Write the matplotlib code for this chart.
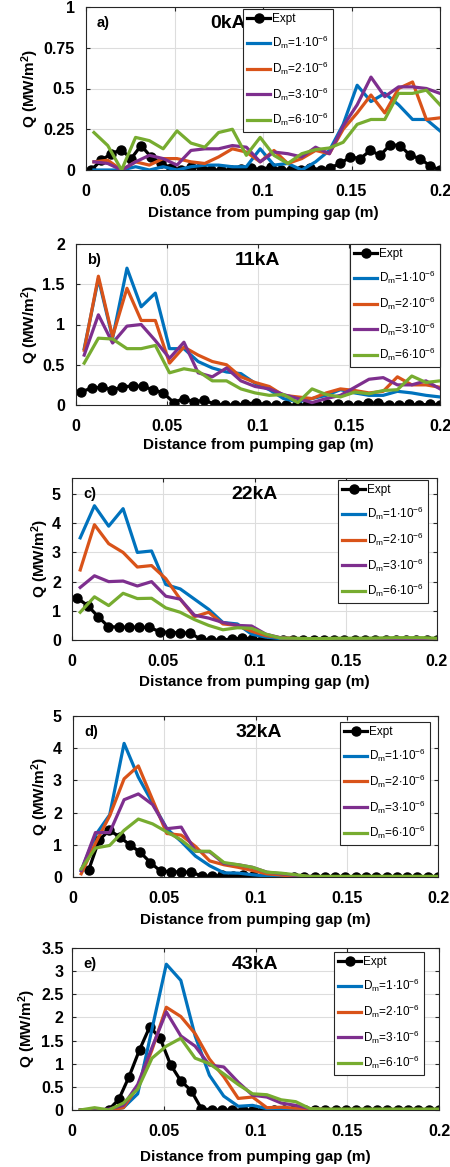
import matplotlib
matplotlib.use('Agg')
import matplotlib.pyplot as plt

# grid positions of simulated and measured profiles (m)
sim_x = [0.0045, 0.0123, 0.0201, 0.0280, 0.0358, 0.0436, 0.0514, 0.0593, 0.0671,
         0.0749, 0.0827, 0.0906, 0.0984, 0.1062, 0.1140, 0.1219, 0.1297, 0.1375,
         0.1453, 0.1532, 0.1610, 0.1688, 0.1766, 0.1845, 0.1923, 0.2000]
expt_x = [0.0030, 0.0086, 0.0143, 0.0199, 0.0255, 0.0311, 0.0368, 0.0424, 0.0480,
          0.0537, 0.0593, 0.0649, 0.0705, 0.0762, 0.0818, 0.0874, 0.0931, 0.0987,
          0.1043, 0.1099, 0.1156, 0.1212, 0.1268, 0.1325, 0.1381, 0.1437, 0.1493,
          0.1550, 0.1606, 0.1662, 0.1719, 0.1775, 0.1831, 0.1887, 0.1944, 0.2000]

# a) 0kA
expt_0 = [0.0, 0.06, 0.10, 0.125, 0.07, 0.15, 0.08, 0.04, 0.015, 0.0, 0.02, 0.02,
          0.0, 0.0, 0.0, 0.005, 0.015, 0.0, 0.02, 0.0, 0.0, 0.0, 0.015, 0.0,
          0.015, 0.04, 0.08, 0.07, 0.12, 0.09, 0.155, 0.15, 0.09, 0.07, 0.025, 0.0]
d1_0 = [0.0, 0.0, 0.0, 0.02, 0.0, 0.02, 0.0, 0.02, 0.03, 0.03, 0.02, 0.02, 0.13,
        0.03, 0.04, 0.0, 0.05, 0.12, 0.28, 0.52, 0.42, 0.47, 0.40, 0.31, 0.31, 0.24]
d2_0 = [0.05, 0.06, 0.0, 0.05, 0.03, 0.07, 0.07, 0.05, 0.04, 0.08, 0.13, 0.11, 0.05,
        0.12, 0.04, 0.07, 0.12, 0.10, 0.25, 0.35, 0.46, 0.35, 0.50, 0.54, 0.31, 0.32]
d3_0 = [0.05, 0.04, 0.0, 0.05, 0.09, 0.07, 0.03, 0.12, 0.13, 0.13, 0.15, 0.14, 0.05,
        0.11, 0.10, 0.08, 0.14, 0.10, 0.27, 0.40, 0.57, 0.45, 0.51, 0.51, 0.50, 0.47]
d6_0 = [0.23, 0.15, 0.0, 0.20, 0.18, 0.13, 0.24, 0.165, 0.14, 0.23, 0.25, 0.09, 0.20,
        0.09, 0.04, 0.10, 0.125, 0.135, 0.17, 0.28, 0.31, 0.31, 0.47, 0.47, 0.49, 0.40]

# b) 11kA
expt_11 = [0.165, 0.21, 0.22, 0.19, 0.22, 0.24, 0.23, 0.19, 0.15, 0.03, 0.08, 0.04,
           0.06, 0.01, 0.0, 0.0, 0.01, 0.03, 0.0, 0.0, 0.0, 0.0, 0.0, 0.0,
           0.01, 0.01, 0.0, 0.0, 0.03, 0.02, 0.0, 0.0, 0.01, 0.0, 0.01, 0.0]
d1_11 = [0.70, 1.57, 0.83, 1.70, 1.22, 1.39, 0.70, 0.70, 0.54, 0.46, 0.41, 0.39, 0.27,
         0.19, 0.08, 0.04, 0.08, 0.12, 0.19, 0.15, 0.12, 0.12, 0.17, 0.15, 0.12, 0.10]
d2_11 = [0.68, 1.60, 0.85, 1.45, 1.05, 1.05, 0.52, 0.72, 0.62, 0.54, 0.50, 0.35, 0.28,
         0.23, 0.12, 0.10, 0.08, 0.15, 0.20, 0.18, 0.15, 0.17, 0.35, 0.25, 0.25, 0.22]
d3_11 = [0.62, 1.12, 0.77, 0.98, 1.00, 0.80, 0.58, 0.78, 0.40, 0.35, 0.46, 0.30, 0.23,
         0.20, 0.13, 0.08, 0.03, 0.08, 0.12, 0.22, 0.32, 0.34, 0.25, 0.25, 0.30, 0.20]
d6_11 = [0.52, 0.83, 0.82, 0.70, 0.70, 0.74, 0.40, 0.45, 0.42, 0.30, 0.30, 0.20, 0.15,
         0.12, 0.13, 0.03, 0.20, 0.13, 0.10, 0.16, 0.14, 0.18, 0.19, 0.36, 0.28, 0.30]

# c) 22kA
expt_22 = [1.43, 1.18, 0.80, 0.46, 0.44, 0.44, 0.44, 0.43, 0.29, 0.25, 0.25, 0.23,
           0.03, 0.0, 0.0, 0.03, 0.06, 0.04, 0.0, 0.0, 0.0, 0.0, 0.0, 0.0,
           0.01, 0.0, 0.0, 0.0, 0.0, 0.0, 0.0, 0.0, 0.01, 0.0, 0.0, 0.0]
d1_22 = [3.50, 4.60, 3.90, 4.50, 3.00, 3.05, 1.90, 1.75, 1.40, 1.05, 0.60, 0.55, 0.20,
         0.10, 0.05, 0.03, 0.02, 0.02, 0.02, 0.02, 0.02, 0.02, 0.02, 0.02, 0.02, 0.02]
d2_22 = [2.40, 3.95, 3.30, 3.00, 2.50, 2.55, 2.10, 1.40, 0.80, 0.95, 0.55, 0.50, 0.30,
         0.15, 0.08, 0.05, 0.04, 0.03, 0.03, 0.03, 0.03, 0.03, 0.03, 0.03, 0.03, 0.03]
d3_22 = [1.80, 2.20, 2.00, 2.02, 1.85, 2.00, 1.50, 1.40, 0.85, 0.75, 0.60, 0.50, 0.48,
         0.20, 0.08, 0.05, 0.04, 0.03, 0.03, 0.03, 0.03, 0.03, 0.03, 0.03, 0.03, 0.02]
d6_22 = [0.95, 1.48, 1.18, 1.60, 1.42, 1.43, 1.10, 0.95, 0.70, 0.50, 0.35, 0.42, 0.40,
         0.20, 0.07, 0.06, 0.05, 0.05, 0.06, 0.06, 0.06, 0.07, 0.08, 0.08, 0.08, 0.06]

# d) 32kA (measurement starts at the second grid point)
expt_32 = [0.22, 1.15, 1.45, 1.25, 1.00, 0.77, 0.45, 0.18, 0.17, 0.15, 0.15,
           0.03, 0.03, 0.05, 0.03, 0.05, 0.02, 0.0, 0.0, 0.0, 0.0, 0.0, 0.0,
           0.0, 0.0, 0.0, 0.0, 0.0, 0.0, 0.0, 0.0, 0.0, 0.0, 0.0, 0.0]
d1_32 = [0.20, 1.30, 1.93, 4.15, 3.10, 2.30, 1.50, 1.10, 0.65, 0.35, 0.13, 0.12, 0.07,
         0.03, 0.01, 0.0, 0.0, 0.0, 0.0, 0.0, 0.0, 0.0, 0.0, 0.0, 0.0, 0.0]
d2_32 = [0.10, 1.05, 1.90, 3.05, 3.45, 2.40, 1.35, 1.30, 0.95, 0.50, 0.38, 0.30, 0.20,
         0.10, 0.06, 0.02, 0.0, 0.0, 0.0, 0.0, 0.0, 0.0, 0.0, 0.0, 0.0, 0.0]
d3_32 = [0.20, 1.38, 1.38, 2.40, 2.58, 2.25, 1.50, 1.55, 0.80, 0.78, 0.42, 0.38, 0.30,
         0.15, 0.10, 0.05, 0.02, 0.01, 0.01, 0.01, 0.01, 0.01, 0.01, 0.01, 0.01, 0.01]
d6_32 = [0.25, 0.90, 0.98, 1.45, 1.80, 1.65, 1.40, 1.15, 0.80, 0.80, 0.45, 0.38, 0.30,
         0.15, 0.12, 0.07, 0.02, 0.02, 0.02, 0.02, 0.02, 0.02, 0.02, 0.02, 0.02, 0.02]

# e) 43kA (measurement starts at the fourth grid point)
expt_43 = [0.0, 0.23, 0.72, 1.30, 1.80, 1.55, 0.98, 0.63, 0.42, 0.03, 0.0,
           0.0, 0.0, 0.0, 0.0, 0.0, 0.0, 0.0, 0.0, 0.0, 0.0, 0.0, 0.0,
           0.0, 0.0, 0.0, 0.0, 0.0, 0.0, 0.0, 0.0, 0.0, 0.0]
d1_43 = [0.0, 0.0, 0.0, 0.05, 0.35, 1.75, 3.15, 2.80, 1.60, 0.75, 0.30, 0.08, 0.10,
         0.03, 0.03, 0.02, 0.01, 0.01, 0.0, 0.0, 0.0, 0.0, 0.0, 0.0, 0.0, 0.0]
d2_43 = [0.0, 0.0, 0.0, 0.05, 0.50, 1.30, 2.22, 2.02, 1.65, 1.10, 0.72, 0.25, 0.28,
         0.05, 0.06, 0.04, 0.03, 0.01, 0.01, 0.01, 0.01, 0.01, 0.01, 0.01, 0.01, 0.01]
d3_43 = [0.0, 0.0, 0.02, 0.10, 0.55, 1.35, 2.12, 1.60, 1.38, 0.97, 0.93, 0.60, 0.32,
         0.28, 0.15, 0.10, 0.03, 0.01, 0.01, 0.01, 0.01, 0.01, 0.01, 0.01, 0.01, 0.01]
d6_43 = [0.0, 0.05, 0.0, 0.15, 0.45, 1.12, 1.38, 1.55, 1.12, 1.00, 0.78, 0.55, 0.35,
         0.33, 0.22, 0.18, 0.03, 0.02, 0.02, 0.02, 0.02, 0.02, 0.02, 0.02, 0.02, 0.02]

panel_tags = ['a)', 'b)', 'c)', 'd)', 'e)']
currents = ['0kA', '11kA', '22kA', '32kA', '43kA']
expt_sets = [(expt_x, expt_0), (expt_x, expt_11), (expt_x, expt_22),
             (expt_x[1:], expt_32), (expt_x[3:], expt_43)]
sim_sets = [(d1_0, d2_0, d3_0, d6_0), (d1_11, d2_11, d3_11, d6_11),
            (d1_22, d2_22, d3_22, d6_22), (d1_32, d2_32, d3_32, d6_32),
            (d1_43, d2_43, d3_43, d6_43)]
ylims = [1.0, 2.0, 5.55, 5.0, 3.5]
ytick_sets = [[0, 0.25, 0.5, 0.75, 1], [0, 0.5, 1, 1.5, 2], [0, 1, 2, 3, 4, 5],
              [0, 1, 2, 3, 4, 5], [0, 0.5, 1, 1.5, 2, 2.5, 3, 3.5]]
ytick_labels = [['0', '0.25', '0.5', '0.75', '1'], ['0', '0.5', '1', '1.5', '2'],
                ['0', '1', '2', '3', '4', '5'], ['0', '1', '2', '3', '4', '5'],
                ['0', '0.5', '1', '1.5', '2', '2.5', '3', '3.5']]
xticks = [0, 0.05, 0.1, 0.15, 0.2]
xtick_labels = ['0', '0.05', '0.1', '0.15', '0.2']
dm_labels = [r'D$_m$=1$\cdot$10$^{-6}$', r'D$_m$=2$\cdot$10$^{-6}$',
             r'D$_m$=3$\cdot$10$^{-6}$', r'D$_m$=6$\cdot$10$^{-6}$']
sim_colors = ['#0072BD', '#D95319', '#7E2F8E', '#77AC30']

# pixel layout: panel boxes (left, top, right, bottom), legend top-right corners,
# y-label centre x and x-label centre y
W, H = 450, 1167
boxes = [(86, 7, 440, 170), (76, 244, 440, 405), (72, 478, 437, 640),
         (73, 716, 438, 877), (72, 948, 439, 1110)]
leg_anchor = [(333, 9), (440, 244), (428, 480), (430, 722), (424, 952)]
ylab_x = [30, 30, 40, 40, 27]
xlab_y = [213, 445, 682, 920, 1157]
ytick_pad = [8, 8, 8, 8, 6]
title_x = [0.40, 0.50, 0.50, 0.51, 0.50]

plt.rcParams['font.family'] = ['Liberation Sans', 'DejaVu Sans']
plt.rcParams['mathtext.default'] = 'regular'

fig = plt.figure(figsize=(W / 100, H / 100), dpi=100)

for i in range(5):
    l, t, r, b = boxes[i]
    ax = fig.add_axes([l / W, 1 - b / H, (r - l) / W, (b - t) / H])
    ex, ey = expt_sets[i]
    ax.plot(ex, ey, '-o', color='black', lw=2.3, ms=6.5, label='Expt', zorder=2)
    for ys, c, lab in zip(sim_sets[i], sim_colors, dm_labels):
        ax.plot(sim_x, ys, color=c, lw=2.3, label=lab, zorder=3)

    ax.set_xlim(0, 0.2)
    ax.set_ylim(0, ylims[i])
    ax.set_xticks(xticks)
    ax.set_xticklabels(xtick_labels)
    ax.set_yticks(ytick_sets[i])
    ax.set_yticklabels(ytick_labels[i])
    ax.tick_params(direction='in', length=3, labelsize=11.5, colors='#262626',
                   top=True, right=True)
    ax.tick_params(axis='x', pad=10)
    ax.tick_params(axis='y', pad=ytick_pad[i])
    for lab in ax.get_xticklabels() + ax.get_yticklabels():
        lab.set_fontweight('bold')
        lab.set_color('black')
    ax.grid(True, color='#dddddd', lw=0.8)
    ax.set_axisbelow(True)
    for sp in ax.spines.values():
        sp.set_color('#262626')
        sp.set_linewidth(0.8)

    ax.set_xlabel('Distance from pumping gap (m)', fontsize=11, fontweight='bold')
    ax.xaxis.label.set_va('center')
    ax.xaxis.set_label_coords(0.5, (b - xlab_y[i]) / (b - t))
    ax.set_ylabel('Q (MW/m$^2$)', fontsize=11, fontweight='bold')
    ax.yaxis.label.set_va('center')
    ax.yaxis.set_label_coords((ylab_x[i] - l) / (r - l), 0.5)
    ax.text(0.03, 0.9, panel_tags[i], transform=ax.transAxes, fontsize=10.5,
            fontweight='bold', va='center')
    ax.text(title_x[i], 0.9, currents[i], transform=ax.transAxes, fontsize=14,
            fontweight='bold', ha='center', va='center')

    lx, ly = leg_anchor[i]
    leg = ax.legend(loc='upper right', bbox_to_anchor=(lx / W, 1 - ly / H),
                    bbox_transform=fig.transFigure, fontsize=8.5, borderaxespad=0,
                    handlelength=2.0, handletextpad=0.15, labelspacing=0.72,
                    fancybox=False, framealpha=1, borderpad=0.35)
    leg.get_frame().set_edgecolor('#262626')
    leg.get_frame().set_linewidth(0.8)

fig.savefig('out.png', dpi=100)
